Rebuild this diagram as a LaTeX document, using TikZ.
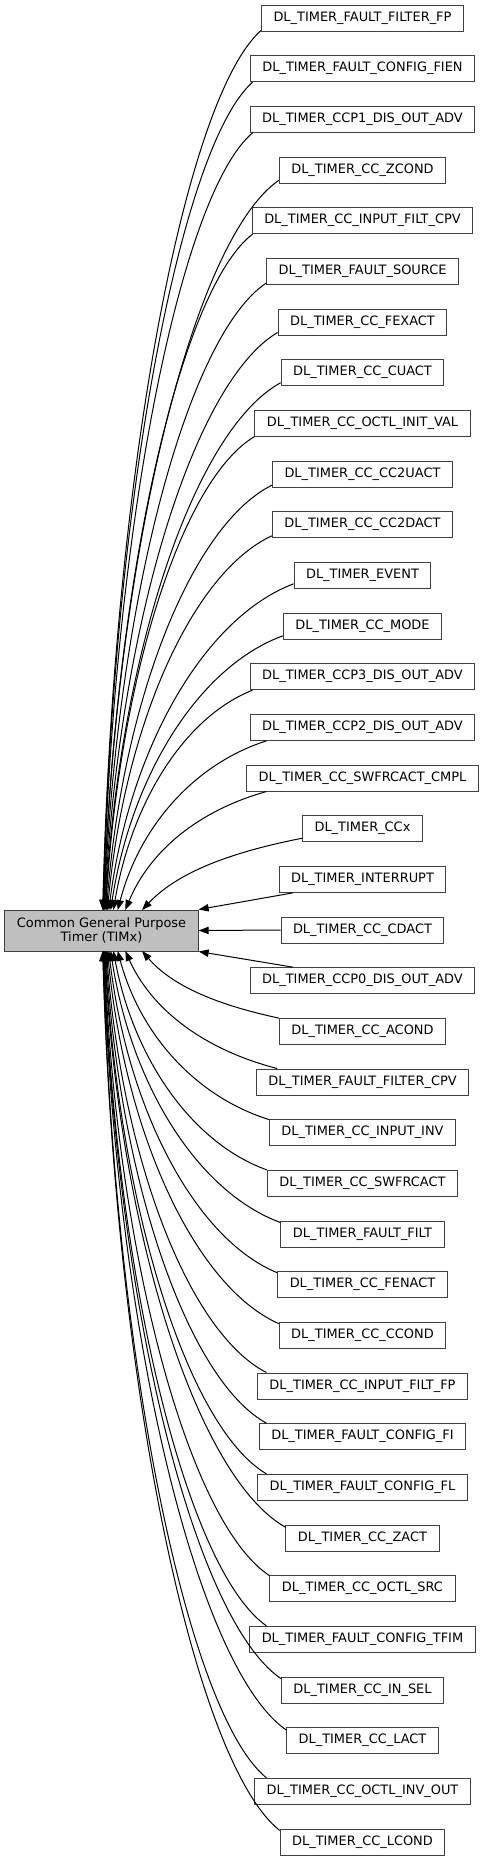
\documentclass[tikz,border=0pt]{standalone}
\usepackage{fontspec}
\setmainfont{DejaVu Sans}
\usetikzlibrary{arrows.meta,calc}
\begin{document}
\begin{tikzpicture}[x=0.75pt,y=-0.75pt,
  box/.style={draw=black!75, line width=0.75pt, minimum height=19.5pt, inner xsep=9pt, inner ysep=0pt,
    font=\fontsize{9.7pt}{10.6pt}\selectfont, fill=white},
  mainbox/.style={box, fill=gray!50, minimum width=144.75pt, minimum height=30.75pt, align=center},
  edge/.style={line width=0.75pt, draw=black, -{Triangle[length=7.5pt,width=5.5pt]}}]
\useasboundingbox (0,0) rectangle (485,1861);
\node[mainbox] (main) at (101.5,930.5) {Common General Purpose\\Timer (TIMx)};
\foreach \lab [count=\i from 0] in {
DL\_TIMER\_FAULT\_FILTER\_FP,
DL\_TIMER\_FAULT\_CONFIG\_FIEN,
DL\_TIMER\_CCP1\_DIS\_OUT\_ADV,
DL\_TIMER\_CC\_ZCOND,
DL\_TIMER\_CC\_INPUT\_FILT\_CPV,
DL\_TIMER\_FAULT\_SOURCE,
DL\_TIMER\_CC\_FEXACT,
DL\_TIMER\_CC\_CUACT,
DL\_TIMER\_CC\_OCTL\_INIT\_VAL,
DL\_TIMER\_CC\_CC2UACT,
DL\_TIMER\_CC\_CC2DACT,
DL\_TIMER\_EVENT,
DL\_TIMER\_CC\_MODE,
DL\_TIMER\_CCP3\_DIS\_OUT\_ADV,
DL\_TIMER\_CCP2\_DIS\_OUT\_ADV,
DL\_TIMER\_CC\_SWFRCACT\_CMPL,
DL\_TIMER\_CCx,
DL\_TIMER\_INTERRUPT,
DL\_TIMER\_CC\_CDACT,
DL\_TIMER\_CCP0\_DIS\_OUT\_ADV,
DL\_TIMER\_CC\_ACOND,
DL\_TIMER\_FAULT\_FILTER\_CPV,
DL\_TIMER\_CC\_INPUT\_INV,
DL\_TIMER\_CC\_SWFRCACT,
DL\_TIMER\_FAULT\_FILT,
DL\_TIMER\_CC\_FENACT,
DL\_TIMER\_CC\_CCOND,
DL\_TIMER\_CC\_INPUT\_FILT\_FP,
DL\_TIMER\_FAULT\_CONFIG\_FI,
DL\_TIMER\_FAULT\_CONFIG\_FL,
DL\_TIMER\_CC\_ZACT,
DL\_TIMER\_CC\_OCTL\_SRC,
DL\_TIMER\_FAULT\_CONFIG\_TFIM,
DL\_TIMER\_CC\_IN\_SEL,
DL\_TIMER\_CC\_LACT,
DL\_TIMER\_CC\_OCTL\_INV\_OUT,
DL\_TIMER\_CC\_LCOND}
{
  \node[box] (c\i) at (362.5,{18+50.667*\i}) {\lab};
}
\foreach \i in {0,...,36}{
  \pgfmathtruncatemacro{\d}{abs(\i-18)}
  \ifnum\d>1
    \pgfmathsetmacro{\ex}{100+100/(\d^1.25)}
    \pgfmathsetmacro{\da}{7+4/\d}
    \ifnum\i<18
      \pgfmathsetmacro{\ang}{180+\da}\def\ey{910}
    \else
      \pgfmathsetmacro{\ang}{180-\da}\def\ey{951}
    \fi
    \pgfmathsetmacro{\ff}{0.3/sqrt(\d)}
    \pgfmathsetmacro{\vf}{0.06+0.3/\d}
    \draw[edge] let \p1=(c\i.\ang), \p2=(\ex,\ey), \n1={\x1-\x2}, \n2={\y1-\y2} in
      (\p1) .. controls ($(\p1)+(-0.48*\n1,-\vf*\n2)$) and ($(\p2)+(\ff*\n1,0.5*\n2)$) .. (\p2);
  \fi
}
\draw[edge] (c17.191) -- (main.north east);
\draw[edge] (c18.west) -- (main.east);
\draw[edge] (c19.169) -- (main.south east);
\end{tikzpicture}
\end{document}
